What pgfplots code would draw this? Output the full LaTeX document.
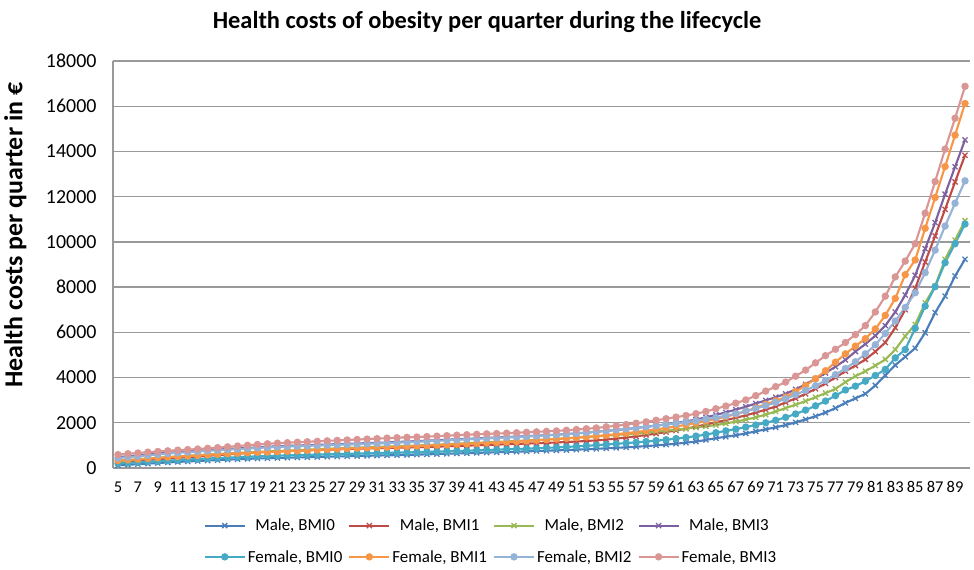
\documentclass[border=0pt]{standalone}
\usepackage{pgfplots}
\pgfplotsset{compat=1.18}
\usepackage{pgfplotstable}
\usepackage{fontspec}
\setmainfont{Carlito}
\definecolor{cMB0}{HTML}{4A7EBB}
\definecolor{cMB1}{HTML}{BE4B48}
\definecolor{cMB2}{HTML}{98B954}
\definecolor{cMB3}{HTML}{7D60A0}
\definecolor{cFB0}{HTML}{46AAC5}
\definecolor{cFB1}{HTML}{F79646}
\definecolor{cFB2}{HTML}{95B3D7}
\definecolor{cFB3}{HTML}{D99694}
\pgfplotstableread{
age mb0 mb1 mb2 mb3 fb0 fb1 fb2 fb3
5 120 270 290 480 200 330 440 590
6 145 300 330 520 225 360 480 630
7 170 330 370 560 250 390 520 665
8 195 360 410 600 275 420 560 700
9 220 390 445 640 300 450 600 730
10 245 420 480 675 325 480 640 760
11 270 450 510 705 350 505 670 790
12 290 480 540 735 375 530 700 815
13 310 510 570 765 400 555 730 840
14 330 540 595 790 420 580 760 870
15 350 570 620 815 440 605 785 900
16 370 600 645 840 460 630 810 935
17 388 630 670 865 480 650 835 970
18 405 660 690 890 500 670 860 1005
19 420 690 710 915 515 690 885 1040
20 432 715 730 940 530 705 910 1070
21 443 735 750 960 545 720 930 1100
22 455 750 770 980 557 740 950 1120
23 466 765 790 995 569 760 965 1140
24 477 780 810 1010 580 780 980 1160
25 488 795 830 1025 591 800 995 1180
26 499 810 850 1040 602 820 1010 1200
27 510 825 870 1055 613 840 1025 1220
28 520 840 890 1070 624 860 1040 1240
29 530 855 905 1085 635 875 1055 1260
30 540 865 920 1100 646 890 1070 1280
31 550 875 935 1115 657 905 1085 1300
32 560 885 950 1130 668 920 1100 1320
33 570 895 965 1150 679 940 1120 1340
34 580 905 980 1170 690 955 1140 1355
35 592 915 995 1190 700 970 1160 1370
36 604 930 1015 1210 712 990 1180 1390
37 617 945 1035 1230 724 1010 1200 1410
38 630 960 1055 1250 737 1030 1220 1430
39 643 975 1075 1270 750 1050 1245 1450
40 656 990 1095 1290 765 1070 1270 1470
41 669 1005 1115 1310 780 1090 1290 1490
42 682 1020 1135 1330 795 1110 1310 1510
43 695 1035 1155 1350 810 1130 1330 1525
44 708 1050 1175 1370 825 1150 1350 1540
45 721 1065 1195 1390 840 1170 1370 1560
46 735 1080 1215 1410 855 1195 1390 1580
47 750 1095 1240 1430 870 1220 1415 1600
48 765 1110 1265 1450 890 1250 1440 1620
49 780 1130 1290 1475 910 1280 1470 1640
50 795 1150 1315 1500 930 1310 1500 1670
51 812 1170 1340 1530 955 1340 1530 1700
52 830 1195 1370 1565 980 1375 1570 1735
53 850 1220 1400 1600 1010 1410 1610 1770
54 870 1260 1430 1640 1040 1450 1650 1820
55 892 1300 1460 1680 1070 1490 1690 1870
56 915 1350 1495 1720 1100 1540 1730 1920
57 940 1400 1530 1770 1135 1590 1770 1980
58 968 1460 1570 1820 1170 1650 1820 2040
59 1000 1520 1610 1875 1210 1710 1870 2110
60 1035 1590 1650 1930 1250 1770 1920 2180
61 1075 1660 1695 1990 1300 1840 1970 2250
62 1120 1740 1740 2060 1350 1910 2030 2320
63 1170 1830 1790 2140 1410 1990 2090 2400
64 1240 1920 1840 2240 1480 2080 2160 2500
65 1320 2020 1900 2350 1560 2170 2230 2620
66 1380 2120 1970 2460 1640 2270 2310 2740
67 1450 2220 2050 2580 1720 2380 2400 2870
68 1530 2330 2140 2710 1810 2510 2510 3010
69 1620 2450 2240 2850 1900 2660 2630 3200
70 1710 2580 2360 2990 2000 2820 2760 3400
71 1800 2720 2500 3130 2110 2970 2900 3600
72 1900 2900 2650 3280 2240 3130 3060 3800
73 2020 3080 2800 3480 2390 3380 3240 4060
74 2150 3280 2960 3700 2560 3650 3430 4330
75 2290 3500 3130 3950 2750 3950 3640 4650
76 2450 3740 3310 4200 2960 4300 3870 4970
77 2650 4000 3500 4480 3200 4680 4130 5250
78 2880 4280 3800 4780 3450 5050 4400 5550
79 3080 4530 4060 5150 3620 5390 4700 5900
80 3280 4800 4280 5480 3840 5720 5050 6300
81 3650 5150 4530 5850 4090 6150 5450 6900
82 4100 5550 4800 6300 4360 6750 5950 7600
83 4550 6200 5240 6900 4870 7500 6500 8450
84 4920 7000 5830 7650 5240 8550 7100 9150
85 5300 7950 6350 8520 6180 9200 7750 9920
86 5980 9110 7300 9700 7160 10600 8640 11270
87 6870 10260 8050 10850 8020 11960 9640 12670
88 7600 11440 9230 12110 9080 13330 10700 14100
89 8490 12650 10080 13320 9920 14720 11710 15470
90 9230 13830 10940 14510 10790 16120 12700 16880
}\data
\begin{document}
\begin{tikzpicture}
\path[use as bounding box] (-113bp,-102bp) rectangle (861bp,468bp);
\begin{axis}[
  at={(0bp,0bp)}, anchor=south west,
  scale only axis, width=857bp, height=407bp,
  xmin=4.5, xmax=90.5, ymin=0, ymax=18000,
  xtick={5,7,...,89}, ytick={0,2000,...,18000},
  major tick length=0pt,
  ymajorgrids, grid style={line width=1.4bp, color=black!40},
  axis x line*=bottom, axis y line*=left,
  axis line style={line width=1.4bp, color=black!40, -},
  /pgf/number format/assume math mode=true,
  /pgf/number format/set thousands separator={},
  scaled y ticks=false,
  xticklabel style={font=\fontsize{16.5}{18}\selectfont, yshift=-10bp},
  yticklabel style={font=\fontsize{20}{22}\selectfont, xshift=-13bp},
  ylabel={\bfseries Health costs per quarter in €},
  ylabel style={font=\fontsize{26}{29}\selectfont, at={(-83bp,0.572)}},
  every axis plot/.append style={line width=2.1bp},
  legend columns=4,
  legend style={at={(0.441,-0.115)}, anchor=north, draw=none, font=\fontsize{17}{19}\selectfont,
    inner sep=2bp, row sep=14bp, /tikz/every even column/.append style={column sep=4bp}},
  legend image code/.code={\draw[mark repeat=2,mark phase=2] plot coordinates {(0bp,0bp) (20bp,0bp) (40bp,0bp)};},
]
\addplot[color=cMB0, mark=x, mark size=3.6bp, mark options={line width=1.3bp}] table[x=age,y=mb0]{\data};
\addlegendentry{Male, BMI0}
\addplot[color=cMB1, mark=x, mark size=3.6bp, mark options={line width=1.3bp}] table[x=age,y=mb1]{\data};
\addlegendentry{Male, BMI1}
\addplot[color=cMB2, mark=x, mark size=3.6bp, mark options={line width=1.3bp}] table[x=age,y=mb2]{\data};
\addlegendentry{Male, BMI2}
\addplot[color=cMB3, mark=x, mark size=3.6bp, mark options={line width=1.3bp}] table[x=age,y=mb3]{\data};
\addlegendentry{Male, BMI3}
\addplot[color=cFB0, mark=*, mark size=2.6bp] table[x=age,y=fb0]{\data};
\addlegendentry{Female, BMI0}
\addplot[color=cFB1, mark=*, mark size=2.6bp] table[x=age,y=fb1]{\data};
\addlegendentry{Female, BMI1}
\addplot[color=cFB2, mark=*, mark size=2.6bp] table[x=age,y=fb2]{\data};
\addlegendentry{Female, BMI2}
\addplot[color=cFB3, mark=*, mark size=2.6bp] table[x=age,y=fb3]{\data};
\addlegendentry{Female, BMI3}
\end{axis}
\node[font=\fontsize{24.5}{28}\selectfont\bfseries] at (374bp,446bp) {Health costs of obesity per quarter during the lifecycle};
\end{tikzpicture}
\end{document}
